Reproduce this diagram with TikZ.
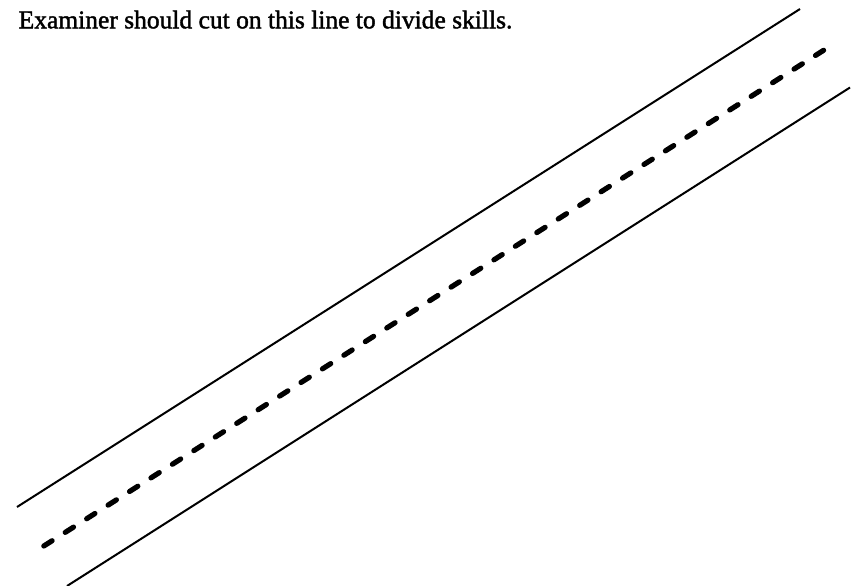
\documentclass[tikz,border=0pt]{standalone}
\usepackage{fontspec}
\setmainfont{Liberation Serif}[UprightFeatures={FakeBold=1.6}]
\usepackage{tikz}
\usetikzlibrary{positioning}

\begin{document}
\begin{tikzpicture}[x=1pt, y=-1pt, font=\fontsize{25.5}{30}\selectfont]
  \tikzset{
    guideline/.style={line width=2pt},
    cutline/.style={line width=5.2pt, line cap=round, dash pattern=on 9.8pt off 15.6pt}
  }
  \useasboundingbox (0,0) rectangle (863,586);

  \node[anchor=base west, inner sep=0pt] (note) at (18.5,28.3) {Examiner should cut on this line to divide skills.};

  \coordinate (upperA) at (17,507);
  \coordinate (upperB) at (800,9);
  \coordinate (cutA) at (43.8,546);
  \coordinate (cutB) at (823.6,50.3);
  \coordinate (lowerA) at (67,586);
  \coordinate (lowerB) at (850,87.5);

  \draw[guideline] (upperA) -- (upperB);
  \draw[cutline] (cutA) -- (cutB);
  \draw[guideline] (lowerA) -- (lowerB);
\end{tikzpicture}
\end{document}
